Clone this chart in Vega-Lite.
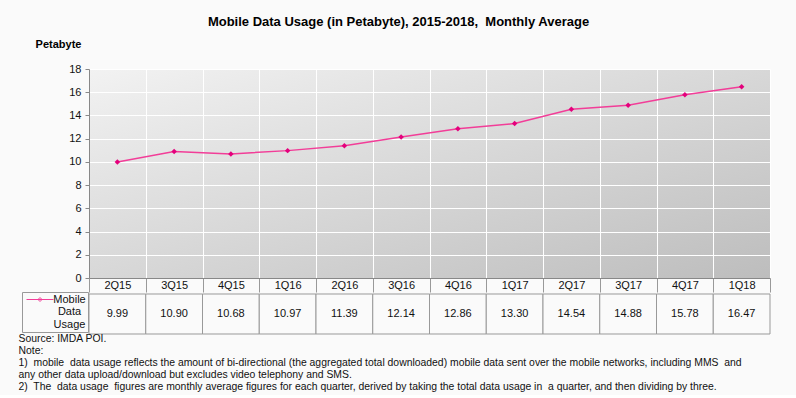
{
  "$schema": "https://vega.github.io/schema/vega-lite/v6.json",
  "background": "#fafafa",
  "padding": {"left": 18, "top": 16, "right": 25, "bottom": 3},
  "config": {"font": "Liberation Sans", "view": {"stroke": null}, "style": {"guide-label": {"lineHeight": 12.5}}},
  "title": {"text": "Mobile Data Usage (in Petabyte), 2015-2018,\u00a0 Monthly Average", "fontSize": 13, "fontWeight": "bold", "color": "#000", "anchor": "middle", "offset": 9, "dx": 4},
  "data": {"values": [
    {"q": "2Q15", "v": 9.99, "s": "Mobile Data Usage"},
    {"q": "3Q15", "v": 10.90, "s": "Mobile Data Usage"},
    {"q": "4Q15", "v": 10.68, "s": "Mobile Data Usage"},
    {"q": "1Q16", "v": 10.97, "s": "Mobile Data Usage"},
    {"q": "2Q16", "v": 11.39, "s": "Mobile Data Usage"},
    {"q": "3Q16", "v": 12.14, "s": "Mobile Data Usage"},
    {"q": "4Q16", "v": 12.86, "s": "Mobile Data Usage"},
    {"q": "1Q17", "v": 13.30, "s": "Mobile Data Usage"},
    {"q": "2Q17", "v": 14.54, "s": "Mobile Data Usage"},
    {"q": "3Q17", "v": 14.88, "s": "Mobile Data Usage"},
    {"q": "4Q17", "v": 15.78, "s": "Mobile Data Usage"},
    {"q": "1Q18", "v": 16.47, "s": "Mobile Data Usage"}
  ]},
  "spacing": 0,
  "vconcat": [
    {
      "width": 681,
      "height": 209,
      "view": {"stroke": null, "fill": {"gradient": "linear", "x1": 0, "y1": 0, "x2": 1, "y2": 1, "stops": [{"offset": 0, "color": "#f2f2f2"}, {"offset": 1, "color": "#bdbdbd"}]}},
      "encoding": {
        "x": {"field": "q", "type": "nominal", "sort": null, "scale": {"type": "band", "paddingInner": 0, "paddingOuter": 0},
          "axis": {"title": null, "orient": "bottom", "tickBand": "extent", "tickSize": 14, "tickColor": "#999", "domainColor": "#888", "labelPadding": -7, "labelBaseline": "middle", "labelAngle": 0, "labelFontSize": 11, "labelColor": "#111", "grid": true, "gridColor": "#ffffff", "gridOpacity": 1, "gridWidth": 1}},
        "y": {"field": "v", "type": "quantitative", "scale": {"domain": [0, 18], "nice": false},
          "axis": {"title": "Petabyte", "titleAngle": 0, "titleX": -31, "titleY": -25, "titleAlign": "center", "titleBaseline": "middle", "titleFontWeight": "bold", "titleFontSize": 11, "titleColor": "#000", "values": [0, 2, 4, 6, 8, 10, 12, 14, 16, 18], "tickSize": 4, "tickColor": "#888", "domainColor": "#888", "labelPadding": 4, "labelFontSize": 11, "labelColor": "#111", "grid": true, "gridColor": "#ffffff", "gridOpacity": 1}}
      },
      "layer": [
        {"mark": {"type": "line", "strokeWidth": 1.5},
         "encoding": {"color": {"field": "s", "type": "nominal", "scale": {"range": ["#f23d98"]},
           "legend": {"orient": "none", "legendX": -67, "legendY": 223, "title": null, "symbolType": "M-2.7,0L2.7,0M-0.4,0L0,-0.4L0.4,0L0,0.4Z", "symbolSize": 100, "symbolOffset": 10.5, "symbolStrokeWidth": 1, "labelExpr": "['Mobile','Data','Usage']", "labelAlign": "center", "labelOffset": 24, "labelFontSize": 11, "labelColor": "#111", "strokeColor": "#999", "fillColor": "#fafafa", "padding": 2, "labelBaseline": "middle"}}}},
        {"mark": {"type": "point", "shape": "diamond", "filled": true, "size": 30, "opacity": 1, "color": "#e4007c"}}
      ]
    },
    {
      "width": 681,
      "height": 40,
      "view": {"stroke": null},
      "title": {"text": ["Source: IMDA POI.", "Note:", "1)\u00a0 mobile\u00a0 data usage reflects the amount of bi-directional (the aggregated total downloaded) mobile data sent over the mobile networks, including MMS\u00a0 and", "any other data upload/download but excludes video telephony and SMS.", "2)\u00a0 The\u00a0 data usage\u00a0 figures are monthly average figures for each quarter, derived by taking the total data usage in\u00a0 a quarter, and then dividing by three."], "orient": "bottom", "anchor": "start", "fontSize": 10.4, "fontWeight": "normal", "color": "#111", "lineHeight": 12, "offset": -1, "dx": -70},
      "encoding": {"x": {"field": "q", "type": "nominal", "sort": null, "scale": {"type": "band", "paddingInner": 0, "paddingOuter": 0}, "axis": null}},
      "layer": [
        {"mark": {"type": "rect", "fill": "#fafafa", "stroke": "#999", "strokeWidth": 1}},
        {"mark": {"type": "text", "fontSize": 11, "color": "#111"}, "encoding": {"text": {"field": "v", "type": "quantitative", "format": ".2f"}}}
      ]
    }
  ]
}
